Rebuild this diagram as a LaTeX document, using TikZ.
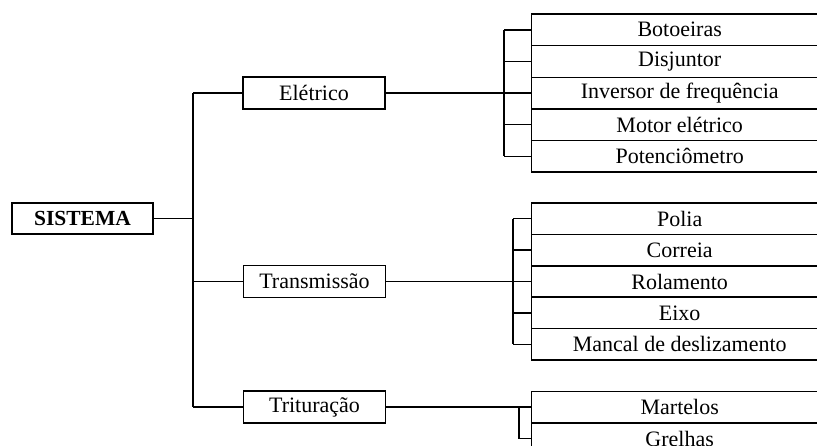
\documentclass[tikz,border=0pt]{standalone}
\usepackage{fontspec}
\setmainfont{Liberation Serif}

\begin{document}
\begin{tikzpicture}[x=1pt, y=-1pt,
		caixa/.style={draw, line width=1.4pt, inner sep=0pt, minimum width=142pt, minimum height=32pt, font=\fontsize{22}{26}\selectfont},
		item/.style={draw, line width=1.4pt, inner sep=0pt, anchor=west, minimum width=296pt, minimum height=31.6pt, font=\fontsize{22}{26}\selectfont},
		liga/.style={line width=1.4pt}]
			\useasboundingbox (0,0) rectangle (817,445);
			\clip (0,0) rectangle (817,445);
			\node [caixa, font=\fontsize{21.5}{25}\selectfont\bfseries, minimum width=141pt, minimum height=31pt] (sistema) at (82.5,218.5) {SISTEMA};
			\node [caixa] (eletrico) at (314,93) {Elétrico};
			\node [caixa] (transmissao) at (314.5,281.5) {Transmissão};
			\node [caixa] (trituracao) at (314.5,407) {Trituração};
			\node [item] (e1) at (531,29.8) {Botoeiras};
			\node [item] (e2) at (531,61.4) {Disjuntor};
			\node [item] (e3) at (531,93) {Inversor de frequência};
			\node [item] (e4) at (531,124.6) {Motor elétrico};
			\node [item] (e5) at (531,156.2) {Potenciômetro};
			\node [item] (t1) at (531,218.7) {Polia};
			\node [item] (t2) at (531,250.1) {Correia};
			\node [item] (t3) at (531,281.5) {Rolamento};
			\node [item] (t4) at (531,312.9) {Eixo};
			\node [item] (t5) at (531,344.3) {Mancal de deslizamento};
			\node [item] (m1) at (531,407) {Martelos};
			\node [item] (m2) at (531,438.6) {Grelhas};
			\coordinate (tronco) at (193,218.5);
			\draw [liga] (sistema.east) -- (tronco);
			\draw [liga] (tronco |- eletrico) -- (tronco |- trituracao);
			\draw [liga] (tronco |- eletrico) -- (eletrico.west);
			\draw [liga] (tronco |- transmissao) -- (transmissao.west);
			\draw [liga] (tronco |- trituracao) -- (trituracao.west);
			\coordinate (ramoE) at (504,93);
			\draw [liga] (eletrico.east) -- (ramoE);
			\draw [liga] (ramoE |- e1) -- (ramoE |- e5);
			\draw [liga] (ramoE |- e1) -- (e1.west);
			\draw [liga] (ramoE |- e2) -- (e2.west);
			\draw [liga] (ramoE |- e3) -- (e3.west);
			\draw [liga] (ramoE |- e4) -- (e4.west);
			\draw [liga] (ramoE |- e5) -- (e5.west);
			\coordinate (ramoT) at (513,281.5);
			\draw [liga] (transmissao.east) -- (ramoT);
			\draw [liga] (ramoT |- t1) -- (ramoT |- t5);
			\draw [liga] (ramoT |- t1) -- (t1.west);
			\draw [liga] (ramoT |- t2) -- (t2.west);
			\draw [liga] (ramoT |- t3) -- (t3.west);
			\draw [liga] (ramoT |- t4) -- (t4.west);
			\draw [liga] (ramoT |- t5) -- (t5.west);
			\coordinate (ramoM) at (519,407);
			\draw [liga] (trituracao.east) -- (m1.west);
			\draw [liga] (ramoM |- m1) -- (ramoM |- m2);
			\draw [liga] (ramoM |- m2) -- (m2.west);
		\end{tikzpicture}
\end{document}
